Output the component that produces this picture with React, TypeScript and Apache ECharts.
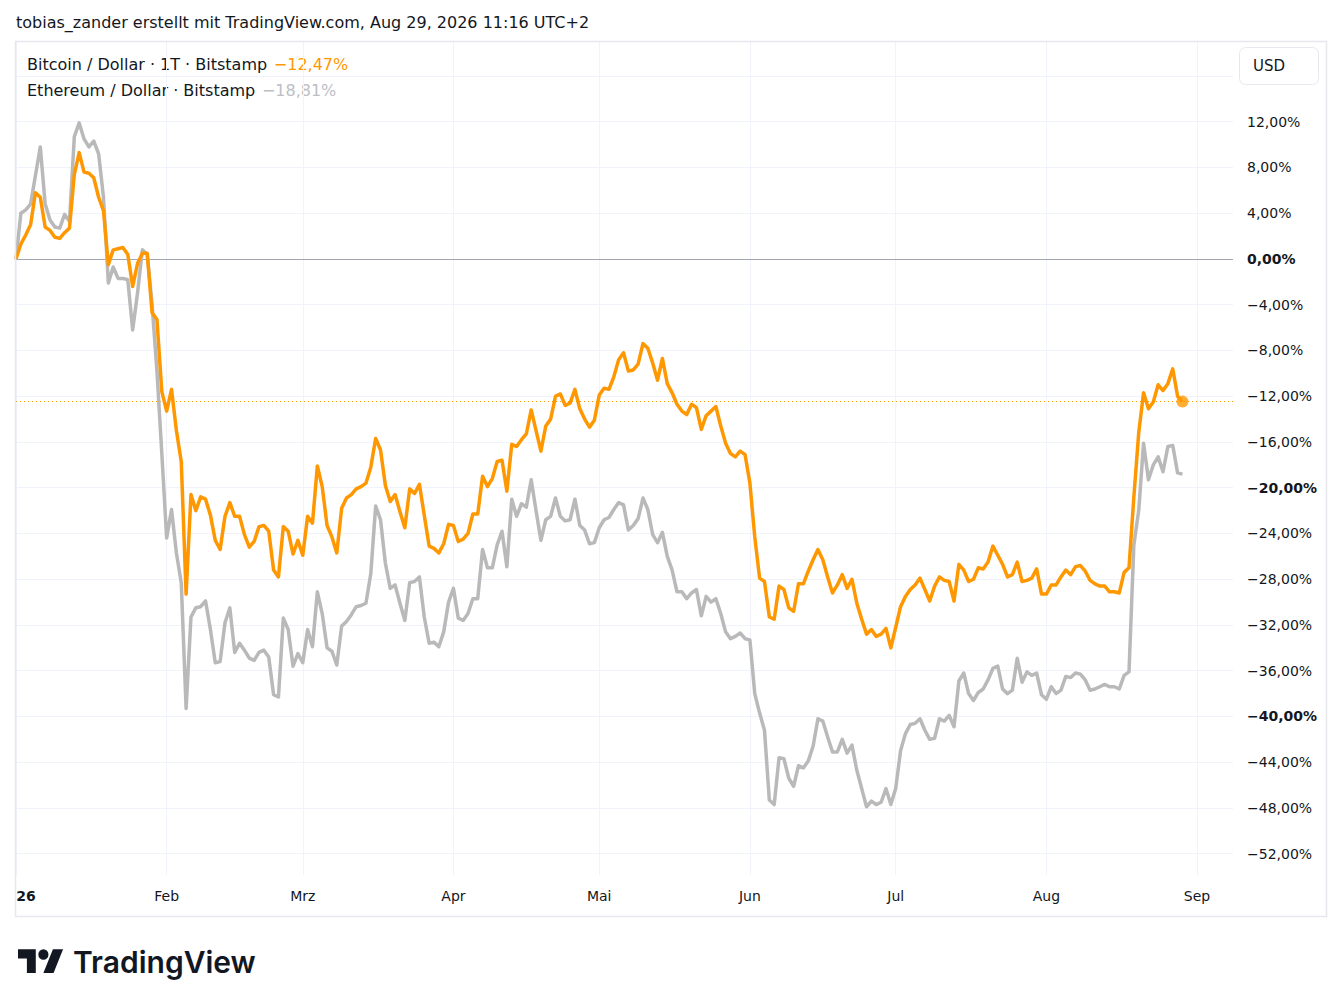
import React, { useEffect, useRef } from 'react';
import * as echarts from 'echarts';

// ---- data (percent change since 1 Jan 2026, one value per calendar day) ----
const monthTickDays = [0, 31, 59, 90, 120, 151, 181, 212, 243];
const monthTickLabels = ['26', 'Feb', 'Mrz', 'Apr', 'Mai', 'Jun', 'Jul', 'Aug', 'Sep'];
const yGridTicks = [-52, -48, -44, -40, -36, -32, -28, -24, -20, -16, -12, -8, -4, 0, 4, 8, 12, 16];
const yLabelTicks = [-52, -48, -44, -40, -36, -32, -28, -24, -20, -16, -12, -8, -4, 0, 4, 8, 12];

const btcPct = [
  0, 1.3, 2.1, 3.0, 5.8, 5.4, 2.8, 2.5, 1.9, 1.8,
  2.3, 2.7, 7.4, 9.3, 7.6, 7.5, 7.1, 5.4, 4.2, -0.5,
  0.8, 0.9, 1.0, 0.4, -2.4, -0.4, 0.5, 0.5, -4.7, -5.3,
  -11.6, -13.3, -11.4, -15.0, -17.7, -29.3, -20.6, -22.0, -20.8, -21.0,
  -22.4, -24.6, -25.4, -22.5, -21.3, -22.5, -22.5, -24.1, -25.2, -24.7,
  -23.4, -23.3, -23.8, -27.2, -27.8, -23.4, -23.8, -25.8, -24.6, -25.9,
  -22.5, -23.1, -18.1, -19.9, -23.3, -24.3, -25.7, -21.8, -20.9, -20.6,
  -20.1, -19.9, -19.6, -18.2, -15.7, -16.7, -19.8, -21.2, -20.6, -22.1,
  -23.5, -20.1, -20.5, -19.7, -22.4, -25.1, -25.3, -25.7, -24.9, -23.2,
  -23.3, -24.7, -24.5, -24.0, -22.3, -22.3, -19.0, -19.9, -19.2, -17.7,
  -17.6, -20.3, -16.2, -16.4, -15.8, -15.3, -13.2, -15.0, -16.8, -14.6,
  -14.0, -12.0, -11.8, -12.8, -12.6, -11.4, -13.1, -14.0, -14.7, -14.1,
  -11.9, -11.3, -11.4, -10.3, -8.8, -8.2, -9.8, -9.7, -9.2, -7.4,
  -7.8, -9.1, -10.6, -8.7, -10.9, -11.7, -12.7, -13.3, -13.6, -12.7,
  -13.0, -14.9, -13.7, -13.3, -12.9, -14.6, -16.1, -17.0, -17.3, -16.8,
  -17.1, -19.6, -24.3, -27.9, -28.2, -31.3, -31.5, -28.6, -28.9, -30.5,
  -30.8, -28.4, -28.4, -27.3, -26.3, -25.4, -26.3, -27.8, -29.2, -28.5,
  -27.6, -28.8, -28.0, -30.1, -31.5, -32.8, -32.4, -33.0, -32.8, -32.3,
  -34.0, -32.2, -30.4, -29.5, -28.9, -28.5, -27.9, -28.9, -29.9, -28.6,
  -27.8, -28.1, -28.2, -29.9, -26.7, -27.2, -28.2, -28.0, -27.0, -27.1,
  -26.5, -25.1, -25.9, -26.7, -27.8, -27.6, -26.5, -28.2, -28.1, -27.9,
  -27.1, -29.3, -29.3, -28.5, -28.5, -27.8, -27.2, -27.6, -26.9, -26.8,
  -27.3, -28.1, -28.4, -28.6, -28.6, -29.1, -29.1, -29.2, -27.4, -27.0,
  -20.8, -15.2, -11.7, -13.1, -12.5, -11.0, -11.5, -10.9, -9.6, -12.0,
  -12.47,
];

const ethPct = [
  0, 4.0, 4.3, 4.8, 7.3, 9.8, 4.8, 3.4, 2.8, 2.7,
  3.9, 3.3, 10.7, 11.9, 10.5, 9.8, 10.3, 9.2, 5.4, -2.1,
  -0.7, -1.7, -1.7, -1.8, -6.2, -3.0, 0.8, 0.4, -4.0, -9.8,
  -17.0, -24.4, -21.9, -25.7, -28.3, -39.3, -31.3, -30.5, -30.4, -29.9,
  -32.4, -35.3, -35.2, -31.8, -30.5, -34.4, -33.6, -34.2, -34.9, -35.1,
  -34.4, -34.2, -34.8, -38.1, -38.3, -31.4, -32.4, -35.6, -34.5, -35.3,
  -32.4, -33.9, -29.1, -31.0, -34.0, -34.3, -35.5, -32.1, -31.7, -31.1,
  -30.4, -30.3, -30.1, -27.5, -21.6, -22.8, -26.6, -28.8, -28.5, -30.1,
  -31.6, -28.3, -28.2, -27.8, -31.3, -33.6, -33.5, -33.9, -32.6, -30.0,
  -28.8, -31.4, -31.6, -31.0, -29.7, -29.7, -25.4, -27.0, -27.0, -25.0,
  -23.8, -26.9, -21.0, -22.5, -21.4, -21.7, -19.3, -22.0, -24.6, -22.8,
  -22.5, -20.9, -22.5, -22.9, -22.8, -21.0, -23.3, -23.7, -24.9, -24.8,
  -23.5, -22.8, -22.6, -21.9, -21.3, -21.5, -23.7, -23.3, -22.7, -20.9,
  -21.9, -24.1, -24.8, -23.9, -26.0, -27.2, -29.1, -29.1, -29.7, -29.2,
  -28.9, -31.2, -29.5, -30.0, -29.7, -31.0, -32.6, -33.2, -33.0, -32.7,
  -33.2, -33.3, -38.0, -39.7, -41.2, -47.3, -47.7, -43.6, -43.7, -45.4,
  -46.1, -44.3, -44.5, -43.9, -42.6, -40.2, -40.4, -41.8, -43.1, -43.1,
  -42.0, -43.2, -42.5, -44.7, -46.3, -47.9, -47.4, -47.7, -47.5, -46.3,
  -47.7, -46.3, -43.0, -41.5, -40.7, -40.6, -40.2, -41.2, -42.0, -41.9,
  -40.2, -40.4, -39.9, -40.9, -36.9, -36.2, -38.0, -38.6, -37.9, -37.6,
  -36.8, -35.8, -35.6, -37.6, -38.0, -37.7, -34.9, -37.0, -36.1, -36.4,
  -36.2, -38.1, -38.5, -37.4, -38.0, -37.7, -36.5, -36.6, -36.2, -36.3,
  -36.8, -37.7, -37.6, -37.4, -37.2, -37.4, -37.4, -37.6, -36.4, -36.1,
  -25.0, -22.0, -16.1, -19.3, -18.0, -17.3, -18.6, -16.4, -16.3, -18.7,
  -18.81,
];

const btcLegend = 'Bitcoin / Dollar \u00b7 1T \u00b7 Bitstamp';
const ethLegend = 'Ethereum / Dollar \u00b7 Bitstamp';
const btcLast = '\u221212,47%';
const ethLast = '\u221218,81%';
const headerText = 'tobias_zander erstellt mit TradingView.com, Aug 29, 2026 11:16 UTC+2';

const FONT = '"DejaVu Sans", "Noto Sans", sans-serif';
const TEXT = '#131722';
const ORANGE = '#ff9800';
const GRAY = '#b9b9b9';
const GRID = '#f0f3fa';

const W = 1341;
const H = 1007;
const PLOT_LEFT = 16;
const PLOT_RIGHT = 1233;
const PLOT_TOP = 41;
const PLOT_BOTTOM = 875;
const X_MAX_DAY = 250.4;
const Y_MAX = 19.06;
const Y_MIN = -53.86;

let logoRegistered = false;
function ensureLogo() {
  if (logoRegistered) return;
  logoRegistered = true;
  echarts.graphic.registerShape(
    'tvLogo',
    echarts.graphic.extendPath(
      'M14 22H7V11H0V4h14v18zM28 22h-8l7.5-18h8L28 22zM24 8a4 4 0 1 1-8 0a4 4 0 1 1 8 0z',
      {}
    )
  );
}

function fmtPct(v: number) {
  const r = Math.round(v);
  const s = (r < 0 ? '\u2212' : '') + Math.abs(r).toFixed(2).replace('.', ',') + '%';
  return r % 20 === 0 ? '{b|' + s + '}' : s;
}

function fmtMonth(v: number) {
  const i = monthTickDays.indexOf(Math.round(v));
  if (i < 0) return '';
  const t = monthTickLabels[i];
  return i === 0 ? '{y|' + t + '}' : t;
}

export default function App() {
  const ref = useRef<HTMLDivElement>(null);

  useEffect(() => {
    if (!ref.current) return;
    ensureLogo();
    const chart = echarts.init(ref.current, undefined, { renderer: 'svg' });
    const lastIdx = btcPct.length - 1;

    const option: any = {
      animation: false,
      backgroundColor: '#ffffff',
      textStyle: { fontFamily: FONT },
      grid: {
        left: PLOT_LEFT,
        right: W - PLOT_RIGHT,
        top: PLOT_TOP,
        bottom: H - PLOT_BOTTOM,
        containLabel: false,
      },
      xAxis: {
        type: 'value',
        min: 0,
        max: X_MAX_DAY,
        axisLine: { show: false },
        axisTick: { show: false, customValues: monthTickDays },
        splitLine: { show: true, lineStyle: { color: GRID, width: 1 } },
        axisLabel: {
          customValues: monthTickDays,
          formatter: fmtMonth,
          color: TEXT,
          fontSize: 14,
          fontFamily: FONT,
          margin: 14,
          hideOverlap: false,
          rich: {
            y: { fontWeight: 'bold', fontSize: 14, color: TEXT, fontFamily: FONT, padding: [0, 0, 0, 20] },
          },
        },
      },
      yAxis: {
        type: 'value',
        position: 'right',
        min: Y_MIN,
        max: Y_MAX,
        axisLine: { show: false },
        axisTick: { show: false, customValues: yGridTicks },
        splitLine: { show: true, lineStyle: { color: GRID, width: 1 } },
        axisLabel: {
          customValues: yLabelTicks,
          formatter: fmtPct,
          color: TEXT,
          fontSize: 14,
          fontFamily: FONT,
          margin: 14,
          align: 'left',
          rich: {
            b: { fontWeight: 'bold', fontSize: 14, color: TEXT, fontFamily: FONT },
          },
        },
      },
      series: [
        {
          name: 'Ethereum',
          type: 'line',
          data: ethPct.map((v, i) => [i, v]),
          showSymbol: false,
          symbol: 'none',
          lineStyle: { color: GRAY, width: 3.5, join: 'round' },
          itemStyle: { color: GRAY },
          z: 2,
          markLine: {
            silent: true,
            symbol: ['none', 'none'],
            label: { show: false },
            lineStyle: { color: '#a3a6af', width: 1, type: 'solid' },
            data: [{ yAxis: 0 }],
            z: 1,
          },
        },
        {
          name: 'Bitcoin',
          type: 'line',
          data: btcPct.map((v, i) => [i, v]),
          showSymbol: false,
          symbol: 'none',
          lineStyle: { color: ORANGE, width: 3.5, join: 'round' },
          itemStyle: { color: ORANGE },
          z: 3,
          markLine: {
            silent: true,
            symbol: ['none', 'none'],
            label: { show: false },
            lineStyle: { color: ORANGE, width: 1, type: [1, 3] },
            data: [{ yAxis: btcPct[lastIdx] }],
            z: 1,
          },
        },
        {
          name: 'BitcoinLast',
          type: 'scatter',
          data: [[lastIdx, btcPct[lastIdx]]],
          symbol: 'circle',
          symbolSize: 12,
          itemStyle: { color: ORANGE },
          z: 4,
          silent: true,
        },
      ],
      graphic: [
        {
          type: 'text',
          x: 16,
          y: 22,
          style: { text: headerText, font: '16px ' + FONT, fill: TEXT, verticalAlign: 'middle' },
        },
        {
          type: 'rect',
          shape: { x: 15.5, y: 41.5, width: 1311, height: 875 },
          style: { fill: 'none', stroke: '#e6e8ee', lineWidth: 1.5 },
          silent: true,
          z: 10,
        },
        {
          type: 'text',
          x: 27,
          y: 64,
          style: {
            text: '{a|' + btcLegend + '}  {o|' + btcLast + '}',
            verticalAlign: 'middle',
            rich: {
              a: { fontSize: 16, fontFamily: FONT, fill: TEXT, color: TEXT },
              o: { fontSize: 16, fontFamily: FONT, fill: ORANGE, color: ORANGE },
            },
          },
        },
        {
          type: 'text',
          x: 27,
          y: 90,
          style: {
            text: '{a|' + ethLegend + '}  {g|' + ethLast + '}',
            verticalAlign: 'middle',
            rich: {
              a: { fontSize: 16, fontFamily: FONT, fill: TEXT, color: TEXT },
              g: { fontSize: 16, fontFamily: FONT, fill: '#bcbec4', color: '#bcbec4' },
            },
          },
        },
        {
          type: 'rect',
          shape: { x: 1239.5, y: 47.5, width: 79, height: 37, r: 6 },
          style: { fill: '#ffffff', stroke: '#e6e8ee', lineWidth: 1 },
          z: 11,
        },
        {
          type: 'text',
          x: 1253,
          y: 66,
          z: 12,
          style: { text: 'USD', font: '15px ' + FONT, fill: TEXT, verticalAlign: 'middle' },
        },
        {
          type: 'tvLogo',
          x: 18,
          y: 944,
          scaleX: 1.27,
          scaleY: 1.32,
          style: { fill: TEXT },
        },
        {
          type: 'text',
          x: 73,
          y: 962,
          style: {
            text: 'TradingView',
            font: '600 30px Inter, "Noto Sans", sans-serif',
            fill: TEXT,
            verticalAlign: 'middle',
          },
        },
      ],
    };

    chart.setOption(option);
    return () => {
      chart.dispose();
    };
  }, []);

  return (
    <div
      style={{ position: 'fixed', left: 0, top: 0, width: W, height: H, background: '#ffffff' }}
    >
      <div ref={ref} style={{ width: W, height: H }} />
    </div>
  );
}
